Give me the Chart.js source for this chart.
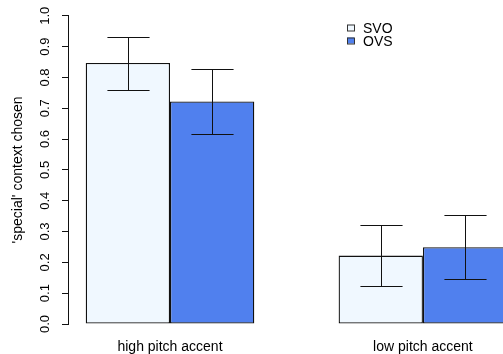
<!DOCTYPE html>
<html>
<head>
<meta charset="utf-8">
<script src="https://cdn.jsdelivr.net/npm/chart.js@4"></script>
<style>
  html, body { margin: 0; padding: 0; background: #fff; overflow: hidden; }
  #wrap { width: 503px; height: 354px; position: relative; }
</style>
</head>
<body>
<div id="wrap"><canvas id="chart"></canvas></div>
<script>
// ------------------------------
// Data
// ------------------------------
const categories = ['high pitch accent', 'low pitch accent'];
const groupCenters = [2, 5];            // centre of each bar pair on the x scale
const seriesNames = ['SVO', 'OVS'];
const svoMeans = [0.847, 0.222];
const ovsMeans = [0.722, 0.249];
const svoLower = [0.760, 0.123];
const svoUpper = [0.931, 0.321];
const ovsLower = [0.615, 0.147];
const ovsUpper = [0.827, 0.353];
const yTickValues = [0, 0.1, 0.2, 0.3, 0.4, 0.5, 0.6, 0.7, 0.8, 0.9, 1.0];

const seriesColors = ['#F0F8FF', '#5080EE'];
const lineColor = '#111';

Chart.defaults.font.family = '"Liberation Sans", Arial, sans-serif';
Chart.defaults.color = '#000';

// ------------------------------
// Error bars (whiskers) drawn through the scales
// ------------------------------
const errLow = [svoLower, ovsLower];
const errHigh = [svoUpper, ovsUpper];

const errorBarPlugin = {
  id: 'errorBars',
  afterDatasetsDraw(chart) {
    const { ctx, scales: { x, y } } = chart;
    const half = x.getPixelForValue(0.25) - x.getPixelForValue(0);
    ctx.save();
    ctx.strokeStyle = lineColor;
    ctx.lineWidth = 1;
    chart.data.datasets.forEach((ds, di) => {
      chart.getDatasetMeta(di).data.forEach((bar, i) => {
        const cx = Math.round(bar.x) + 0.5;
        const yl = Math.round(y.getPixelForValue(errLow[di][i])) + 0.5;
        const yu = Math.round(y.getPixelForValue(errHigh[di][i])) + 0.5;
        ctx.beginPath();
        ctx.moveTo(cx, yl); ctx.lineTo(cx, yu);
        ctx.moveTo(cx - half, yl); ctx.lineTo(cx + half, yl);
        ctx.moveTo(cx - half, yu); ctx.lineTo(cx + half, yu);
        ctx.stroke();
      });
    });
    ctx.restore();
  }
};

// ------------------------------
// R-style small legend inside the plot
// ------------------------------
const legendPlugin = {
  id: 'rLegend',
  afterDraw(chart) {
    const ctx = chart.ctx;
    const left = 347, firstBaseline = 32.5, rowGap = 13;
    ctx.save();
    ctx.font = '14px "Liberation Sans", Arial, sans-serif';
    ctx.textBaseline = 'alphabetic';
    chart.data.datasets.forEach((ds, i) => {
      const base = firstBaseline + i * rowGap;
      ctx.fillStyle = ds.backgroundColor;
      ctx.fillRect(left, base - 8, 7, 6);
      ctx.strokeStyle = '#333';
      ctx.lineWidth = 1;
      ctx.strokeRect(left + 0.5, base - 7.5, 7, 6);
      ctx.fillStyle = '#000';
      ctx.fillText(ds.label, left + 16, base);
    });
    ctx.restore();
  }
};

const barData = [svoMeans, ovsMeans];

new Chart(document.getElementById('chart'), {
  type: 'bar',
  data: {
    datasets: seriesNames.map((name, si) => ({
      label: name,
      data: groupCenters.map((c, i) => ({ x: c, y: barData[si][i] })),
      backgroundColor: seriesColors[si],
      borderColor: lineColor,
      borderWidth: 1.3,
      borderSkipped: false,
      inflateAmount: 0,
      clip: false,
      categoryPercentage: 2 / 3,
      barPercentage: 1
    }))
  },
  options: {
    responsive: true,
    maintainAspectRatio: false,
    animation: false,
    layout: { padding: { top: 15, left: 0, right: 0, bottom: 0 } },
    plugins: {
      legend: { display: false },
      tooltip: { enabled: false }
    },
    scales: {
      x: {
        type: 'linear',
        offset: false,
        min: 0.79,
        max: 5.95,
        afterBuildTicks: s => { s.ticks = groupCenters.map(v => ({ value: v })); },
        afterFit: s => { s.height = 30; },
        grid: { display: false, drawTicks: false, offset: false },
        border: { display: false },
        ticks: {
          callback: (v, i) => categories[i],
          autoSkip: false,
          maxRotation: 0,
          padding: 15,
          font: { size: 14 }
        }
      },
      y: {
        type: 'linear',
        min: 0,
        max: 1,
        afterBuildTicks: s => { s.ticks = yTickValues.map(v => ({ value: v })); },
        afterFit: s => { s.width = 68; },
        grid: { drawOnChartArea: false, drawTicks: true, tickLength: 6, color: lineColor, lineWidth: 1 },
        border: { display: true, color: lineColor, width: 1 },
        ticks: {
          callback: v => v.toFixed(1),
          minRotation: 90,
          maxRotation: 90,
          crossAlign: 'center',
          padding: 8,
          font: { size: 13 }
        },
        title: {
          display: true,
          text: "'special' context chosen",
          font: { size: 14 },
          padding: { top: 10, bottom: 0 }
        }
      }
    }
  },
  plugins: [errorBarPlugin, legendPlugin]
});
</script>
</body>
</html>
